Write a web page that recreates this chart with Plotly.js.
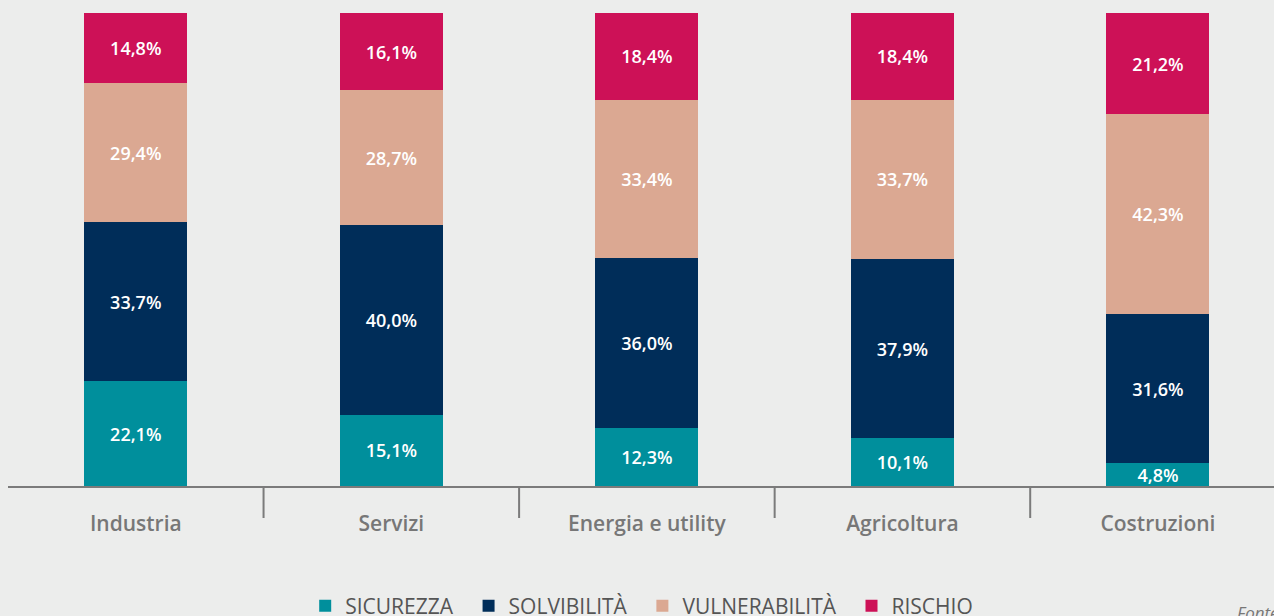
<!DOCTYPE html>
<html>
<head>
<meta charset="utf-8">
<script src="https://cdn.plot.ly/plotly-3.0.1.min.js"></script>
<style>
html,body{margin:0;padding:0;background:#ECEDEC;}
#chart{width:1274px;height:616px;}
</style>
</head>
<body>
<div id="chart"></div>
<script>
const categories = ["Industria", "Servizi", "Energia e utility", "Agricoltura", "Costruzioni"];
const sicurezza = [22.1, 15.1, 12.3, 10.1, 4.8];
const solvibilita = [33.7, 40.0, 36.0, 37.9, 31.6];
const vulnerabilita = [29.4, 28.7, 33.4, 33.7, 42.3];
const rischio = [14.8, 16.1, 18.4, 18.4, 21.2];
const seriesNames = ["SICUREZZA", "SOLVIBILITÀ", "VULNERABILITÀ", "RISCHIO"];
const seriesColors = ["#008F9C", "#002D59", "#DBA892", "#CD1157"];
const seriesValues = [sicurezza, solvibilita, vulnerabilita, rischio];

const fmt = v => v.toFixed(1).replace(".", ",") + "%";

const traces = seriesValues.map((vals, i) => ({
  type: "bar",
  name: seriesNames[i] + "\u2002",
  x: categories,
  y: vals,
  width: 0.403,
  marker: {color: seriesColors[i], line: {width: 0}},
  text: vals.map(fmt),
  textposition: "inside",
  insidetextanchor: "middle",
  textangle: 0,
  constraintext: "none",
  textfont: {family: "Open Sans", size: 18, color: "#FFFFFF", weight: 600},
  hoverinfo: "skip"
}));

const separators = [0.5, 1.5, 2.5, 3.5].map(x => ({
  type: "line", xref: "x", yref: "paper",
  x0: x, x1: x, y0: 0, y1: -0.0677,
  line: {color: "#7B7B7B", width: 2}
}));

const layout = {
  width: 1274, height: 616,
  paper_bgcolor: "#ECEDEC", plot_bgcolor: "#ECEDEC",
  margin: {l: 8, r: 0, t: 13, b: 130, autoexpand: false},
  barmode: "stack",
  showlegend: true,
  legend: {
    orientation: "h", xref: "container", yref: "container",
    x: 0.508, xanchor: "center", y: 0.016, yanchor: "middle",
    font: {family: "Open Sans", size: 21, color: "#555555"},
    traceorder: "normal", bgcolor: "rgba(0,0,0,0)"
  },
  xaxis: {
    type: "category", range: [-0.5, 4.454], fixedrange: true,
    showline: true, linecolor: "#7B7B7B", linewidth: 2,
    showgrid: false, zeroline: false, ticks: "", ticklabelstandoff: 18,
    tickfont: {family: "Open Sans", size: 21, color: "#777777", weight: 600}
  },
  yaxis: {
    range: [0, 100], visible: false, showgrid: false, zeroline: false, fixedrange: true
  },
  shapes: separators,
  annotations: [{
    text: "<i>Fonte: elaborazione su dati</i>", xref: "paper", yref: "paper",
    x: (1235 - 8) / 1266, y: (486 - 612) / 473, xanchor: "left", yanchor: "middle",
    showarrow: false, font: {family: "Open Sans", size: 17, color: "#777777"}
  }]
};

Plotly.newPlot("chart", traces, layout, {displayModeBar: false, staticPlot: true});
</script>
</body>
</html>
